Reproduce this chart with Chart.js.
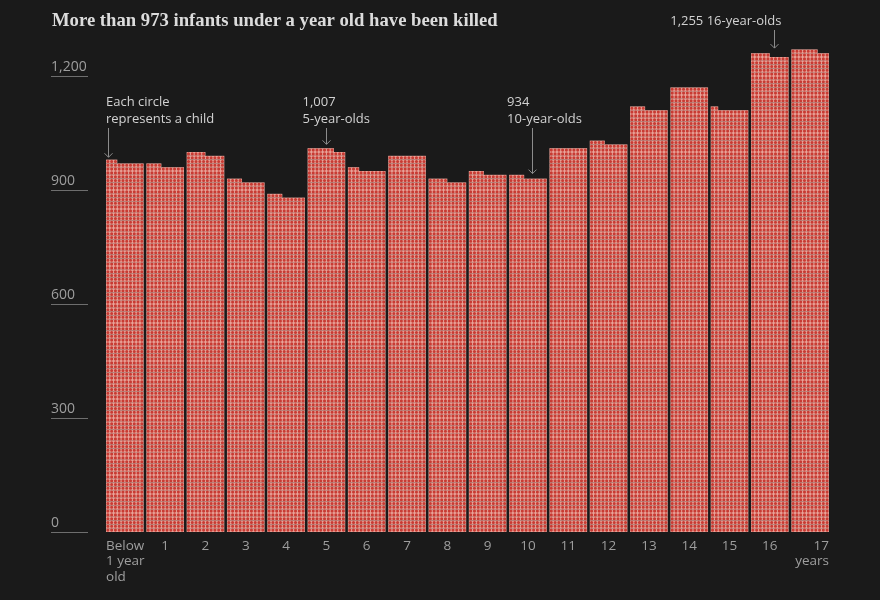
<!DOCTYPE html>
<html lang="en">
<head>
<meta charset="UTF-8">
<title>Children killed by age</title>
<style>
  body { margin: 0; background: #1a1a1a; }
  #wrap { width: 880px; height: 600px; }
</style>
</head>
<body>
<div id="wrap"><canvas id="ageChart" width="880" height="600"></canvas></div>
<script src="https://cdn.jsdelivr.net/npm/chart.js"></script>
<script>
// data
const title = 'More than 973 infants under a year old have been killed';
const ageLabels = [['Below', '1 year', 'old'], ['1'], ['2'], ['3'], ['4'], ['5'], ['6'], ['7'], ['8'],
  ['9'], ['10'], ['11'], ['12'], ['13'], ['14'], ['15'], ['16'], ['17', 'years']];
const killed = [973, 964, 995, 924, 884, 1007, 953, 990, 925, 944, 934, 1010, 1024, 1114, 1170, 1112, 1255, 1267];
const yTicks = [0, 300, 600, 900, 1200];
const notes = [
  { index: 0, lines: ['Each circle', 'represents a child'] },
  { index: 5, lines: ['1,007', '5-year-olds'] },
  { index: 10, lines: ['934', '10-year-olds'] },
  { index: 16, lines: ['1,255 16-year-olds'] }
];

const COLS = 10;           // circles per row in each bar
const PINK = '#e8a49a';
const RED = '#c83b33';
const SANS = '"Open Sans", "Noto Sans", sans-serif';

const dotBars = {
  id: 'dotBars',
  afterDatasetsDraw(chart) {
    const ctx = chart.ctx;
    const y = chart.scales.y;
    chart.getDatasetMeta(0).data.forEach((bar, i) => {
      const v = killed[i];
      const left = bar.x - bar.width / 2;
      const colW = bar.width / COLS;
      const rows = Math.ceil(v / COLS);
      ctx.save();
      ctx.fillStyle = PINK;
      for (let r = 0; r < rows; r++) {
        const n = Math.min(COLS, v - r * COLS);
        const top = y.getPixelForValue((r + 1) * COLS);
        const bot = y.getPixelForValue(r * COLS);
        ctx.fillRect(left, top, n * colW, bot - top);
      }
      ctx.fillStyle = RED;
      ctx.beginPath();
      for (let r = 0; r < rows; r++) {
        const n = Math.min(COLS, v - r * COLS);
        const cy = y.getPixelForValue((r + 0.5) * COLS);
        for (let c = 0; c < n; c++) {
          const cx = left + (c + 0.5) * colW;
          ctx.moveTo(cx + 1.55, cy);
          ctx.arc(cx, cy, 1.55, 0, Math.PI * 2);
        }
      }
      ctx.fill();
      ctx.restore();
    });
  }
};

function arrow(ctx, x, y1, y2) {
  ctx.beginPath();
  ctx.moveTo(x, y1);
  ctx.lineTo(x, y2);
  ctx.moveTo(x - 4, y2 - 4);
  ctx.lineTo(x, y2);
  ctx.lineTo(x + 4, y2 - 4);
  ctx.stroke();
}

const overlay = {
  id: 'overlay',
  afterDraw(chart) {
    const ctx = chart.ctx;
    const x = chart.scales.x;
    const y = chart.scales.y;
    const bars = chart.getDatasetMeta(0).data;
    ctx.save();

    // title
    let size = 21;
    ctx.font = `600 ${size}px "Liberation Serif", serif`;
    size = size * 446 / ctx.measureText(title).width;
    ctx.font = `600 ${size}px "Liberation Serif", serif`;
    ctx.fillStyle = '#dcdcdc';
    ctx.textBaseline = 'alphabetic';
    ctx.textAlign = 'left';
    ctx.fillText(title, 52, 26);

    // y ticks: label above a short rule
    ctx.font = `14px ${SANS}`;
    yTicks.forEach(t => {
      const py = Math.round(y.getPixelForValue(t)) + 0.5;
      ctx.strokeStyle = '#6e6e6e';
      ctx.lineWidth = 1;
      ctx.beginPath();
      ctx.moveTo(51, py);
      ctx.lineTo(88, py);
      ctx.stroke();
      ctx.fillStyle = '#9e9e9e';
      ctx.textBaseline = 'alphabetic';
      ctx.fillText(t.toLocaleString('en-US'), 51, py - 6);
    });

    // x labels
    ctx.font = `13.5px ${SANS}`;
    ctx.textBaseline = 'top';
    bars.forEach((bar, i) => {
      const lines = ageLabels[i];
      let lx = x.getPixelForValue(i);
      ctx.textAlign = 'center';
      if (i === 0) { ctx.textAlign = 'left'; lx = bar.x - bar.width / 2; }
      if (i === bars.length - 1) { ctx.textAlign = 'right'; lx = bar.x + bar.width / 2; }
      lines.forEach((s, k) => ctx.fillText(s, lx, 539 + k * 15.5));
    });

    // annotations
    ctx.font = `13px ${SANS}`;
    ctx.strokeStyle = '#8c8c8c';
    ctx.lineWidth = 1;
    notes.forEach(n => {
      const bar = bars[n.index];
      const left = bar.x - bar.width / 2;
      const v = killed[n.index];
      const fullTop = y.getPixelForValue(Math.floor(v / COLS) * COLS);
      const partTop = y.getPixelForValue(v);
      ctx.fillStyle = '#d2d2d2';
      ctx.textBaseline = 'alphabetic';
      if (n.lines.length === 1) {
        const ax = Math.round(bar.x + 4) + 0.5;
        ctx.textAlign = 'right';
        ctx.fillText(n.lines[0], ax + 7, 25);
        arrow(ctx, ax, 30, partTop - 7);
      } else {
        let tx, ax, end;
        if (n.index === 0) { tx = left; ax = left + 2.5; end = partTop - 5; }
        else if (n.index === 5) { tx = left - 5; ax = Math.round(bar.x) + 0.5; end = partTop - 5; }
        else { tx = left - 2; ax = Math.round(bar.x + 4) + 0.5; end = fullTop - 5; }
        ctx.textAlign = 'left';
        n.lines.forEach((s, k) => ctx.fillText(s, tx, 106 + k * 17));
        arrow(ctx, ax, 128, end);
      }
    });
    ctx.restore();
  }
};

new Chart(document.getElementById('ageChart'), {
  type: 'bar',
  data: {
    labels: ageLabels.map(l => l.join(' ')),
    datasets: [{
      label: 'Children killed',
      data: killed,
      backgroundColor: 'rgba(0,0,0,0)',
      borderWidth: 0,
      categoryPercentage: 1,
      barPercentage: 0.935
    }]
  },
  options: {
    responsive: false,
    animation: false,
    devicePixelRatio: 1,
    layout: { padding: { left: 104.7, right: 49.7, top: 38, bottom: 68 } },
    plugins: { legend: { display: false }, tooltip: { enabled: false } },
    scales: {
      x: { display: false, offset: true },
      y: { display: false, min: 0, max: 1300 }
    }
  },
  plugins: [dotBars, overlay]
});
</script>
</body>
</html>
